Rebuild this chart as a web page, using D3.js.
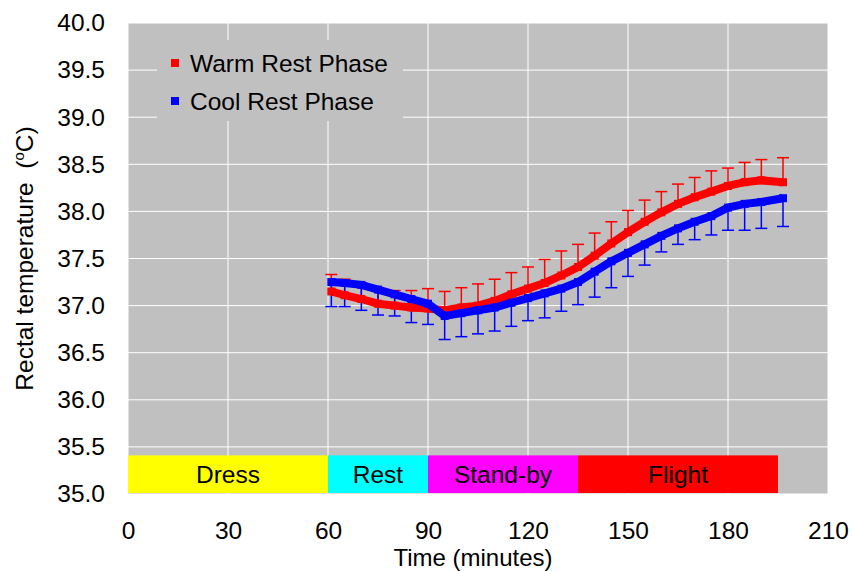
<!DOCTYPE html>
<html>
<head>
<meta charset="utf-8">
<script src="https://cdn.jsdelivr.net/npm/d3@7"></script>
<style>
  body { margin: 0; background: #fff; }
  text { font-family: "Liberation Sans", Arial, sans-serif; }
</style>
</head>
<body>
<svg id="chart"></svg>
<script>
// time points (minutes) where means and error bars were read
const times = [61, 65, 70, 75, 80, 85, 90, 95, 100, 105, 110, 115, 120, 125, 130,
  135, 140, 145, 150, 155, 160, 165, 170, 175, 180, 185, 190, 196.5];

const warmMean = [37.15, 37.11, 37.07, 37.02, 37.00, 36.98, 36.97, 36.95, 36.98, 37.00,
  37.05, 37.12, 37.18, 37.24, 37.32, 37.41, 37.53, 37.66, 37.78, 37.89, 37.99, 38.08,
  38.15, 38.21, 38.27, 38.31, 38.33, 38.31];
const warmUpper = [37.33, 37.28, 37.24, 37.19, 37.16, 37.16, 37.18, 37.15, 37.19, 37.23,
  37.28, 37.35, 37.41, 37.49, 37.58, 37.65, 37.77, 37.89, 38.01, 38.12, 38.21, 38.29,
  38.36, 38.43, 38.46, 38.52, 38.55, 38.57];

const coolMean = [37.25, 37.24, 37.22, 37.17, 37.12, 37.07, 37.02, 36.89, 36.92, 36.95,
  36.98, 37.03, 37.08, 37.13, 37.18, 37.25, 37.36, 37.47, 37.56, 37.65, 37.74, 37.82,
  37.89, 37.95, 38.04, 38.08, 38.10, 38.14];
const coolLower = [36.99, 36.99, 36.95, 36.90, 36.89, 36.82, 36.80, 36.64, 36.67, 36.70,
  36.73, 36.78, 36.84, 36.87, 36.94, 37.01, 37.09, 37.19, 37.31, 37.43, 37.57, 37.65,
  37.70, 37.75, 37.80, 37.80, 37.82, 37.84];

// protocol phases along the bottom
const phaseNames = ["Dress", "Rest", "Stand-by", "Flight"];
const phaseStart = [0, 60, 90, 135];
const phaseEnd = [60, 90, 135, 195];
const phaseColors = ["#ffff00", "#00ffff", "#ff00ff", "#ff0000"];

const xTicks = [0, 30, 60, 90, 120, 150, 180, 210];
const yTicks = [35, 35.5, 36, 36.5, 37, 37.5, 38, 38.5, 39, 39.5, 40];

const W = 853, H = 571;
const margin = { top: 23, right: 25, bottom: 77, left: 128 };
const width = W - margin.left - margin.right,
      height = H - margin.top - margin.bottom;
const fontSize = 24.5;
const bg = "#c0c0c0";

const svg = d3.select("#chart").attr("width", W).attr("height", H);
const g = svg.append("g").attr("transform", `translate(${margin.left},${margin.top})`);

const x = d3.scaleLinear().domain([0, 210]).range([0, width]);
const y = d3.scaleLinear().domain([35, 40]).range([height, 0]);

// plot background
g.append("rect").attr("width", width).attr("height", height).attr("fill", bg);

// grid lines
g.selectAll(".hgrid").data(yTicks).join("line")
  .attr("x1", 0).attr("x2", width)
  .attr("y1", d => y(d)).attr("y2", d => y(d))
  .attr("stroke", "#fff").attr("stroke-width", 1);
g.selectAll(".vgrid").data(xTicks).join("line")
  .attr("x1", d => x(d)).attr("x2", d => x(d))
  .attr("y1", 0).attr("y2", height)
  .attr("stroke", "#fff").attr("stroke-width", 1);

// phase bars
const phases = phaseNames.map((n, i) => ({ name: n, s: phaseStart[i], e: phaseEnd[i], c: phaseColors[i] }));
const barTop = y(35.41), barBottom = y(35) - 1;
g.selectAll(".phase").data(phases).join("rect")
  .attr("x", d => x(d.s)).attr("width", d => x(d.e) - x(d.s))
  .attr("y", barTop).attr("height", barBottom - barTop)
  .attr("fill", d => d.c);
g.selectAll(".phaseLabel").data(phases).join("text")
  .attr("x", d => (x(d.s) + x(d.e)) / 2)
  .attr("y", (barTop + barBottom) / 2)
  .attr("dy", "0.36em")
  .attr("text-anchor", "middle")
  .style("font-size", fontSize + "px")
  .text(d => d.name);

// axes (labels only, no ticks or lines)
const xAxis = g.append("g")
  .attr("transform", `translate(0,${height})`)
  .call(d3.axisBottom(x).tickValues(xTicks).tickSize(0).tickPadding(28).tickFormat(d3.format("d")));
const yAxis = g.append("g")
  .call(d3.axisLeft(y).tickValues(yTicks).tickSize(0).tickPadding(23).tickFormat(d3.format(".1f")));
[xAxis, yAxis].forEach(a => {
  a.select(".domain").remove();
  a.selectAll("text")
    .attr("fill", "#000")
    .style("font-size", fontSize + "px")
    .style("font-family", '"Liberation Sans", Arial, sans-serif');
});

// axis titles
svg.append("text")
  .attr("x", 473).attr("y", 566)
  .attr("text-anchor", "middle")
  .style("font-size", "24px")
  .text("Time (minutes)");

const yTitle = svg.append("text")
  .attr("transform", "rotate(-90)")
  .attr("x", -(margin.top + height / 2)).attr("y", 33)
  .attr("text-anchor", "middle")
  .style("font-size", fontSize + "px");
yTitle.append("tspan").text("Rectal temperature\u00a0\u00a0(");
yTitle.append("tspan").attr("dy", -9).style("font-size", "15px").text("o");
yTitle.append("tspan").attr("dy", 9).text("C)");

// series data
const warm = times.map((t, i) => ({ t, v: warmMean[i], e: warmUpper[i] }));
const cool = times.map((t, i) => ({ t, v: coolMean[i], e: coolLower[i] }));
const capW = 6;

function errorBars(data, color) {
  g.selectAll(null).data(data).join("line")
    .attr("x1", d => x(d.t)).attr("x2", d => x(d.t))
    .attr("y1", d => y(d.v)).attr("y2", d => y(d.e))
    .attr("stroke", color).attr("stroke-width", 1.5);
  g.selectAll(null).data(data).join("line")
    .attr("x1", d => x(d.t) - capW).attr("x2", d => x(d.t) + capW)
    .attr("y1", d => y(d.e)).attr("y2", d => y(d.e))
    .attr("stroke", color).attr("stroke-width", 1.5);
}

const line = d3.line().x(d => x(d.t)).y(d => y(d.v));

function meanBand(data, color) {
  g.append("path")
    .datum(data)
    .attr("fill", "none")
    .attr("stroke", color)
    .attr("stroke-width", 8)
    .attr("d", line);
  g.selectAll(null).data(data).join("rect")
    .attr("x", d => x(d.t) - 4).attr("y", d => y(d.v) - 4)
    .attr("width", 8).attr("height", 8)
    .attr("fill", color);
}

errorBars(warm, "#ff0000");
errorBars(cool, "#0000ff");
meanBand(warm, "#ff0000");
meanBand(cool, "#0000ff");

// legend (box covers the grid)
const legend = svg.append("g");
legend.append("rect")
  .attr("x", 157).attr("y", 40).attr("width", 246).attr("height", 81)
  .attr("fill", bg);
const legendItems = [{ name: "Warm Rest Phase", c: "#ff0000" }, { name: "Cool Rest Phase", c: "#0000ff" }];
legendItems.forEach((d, i) => {
  const cy = 63 + i * 38;
  legend.append("rect")
    .attr("x", 171).attr("y", cy - 4).attr("width", 8).attr("height", 8)
    .attr("fill", d.c);
  legend.append("text")
    .attr("x", 190).attr("y", cy + 8.5)
    .style("font-size", fontSize + "px")
    .text(d.name);
});
</script>
</body>
</html>
